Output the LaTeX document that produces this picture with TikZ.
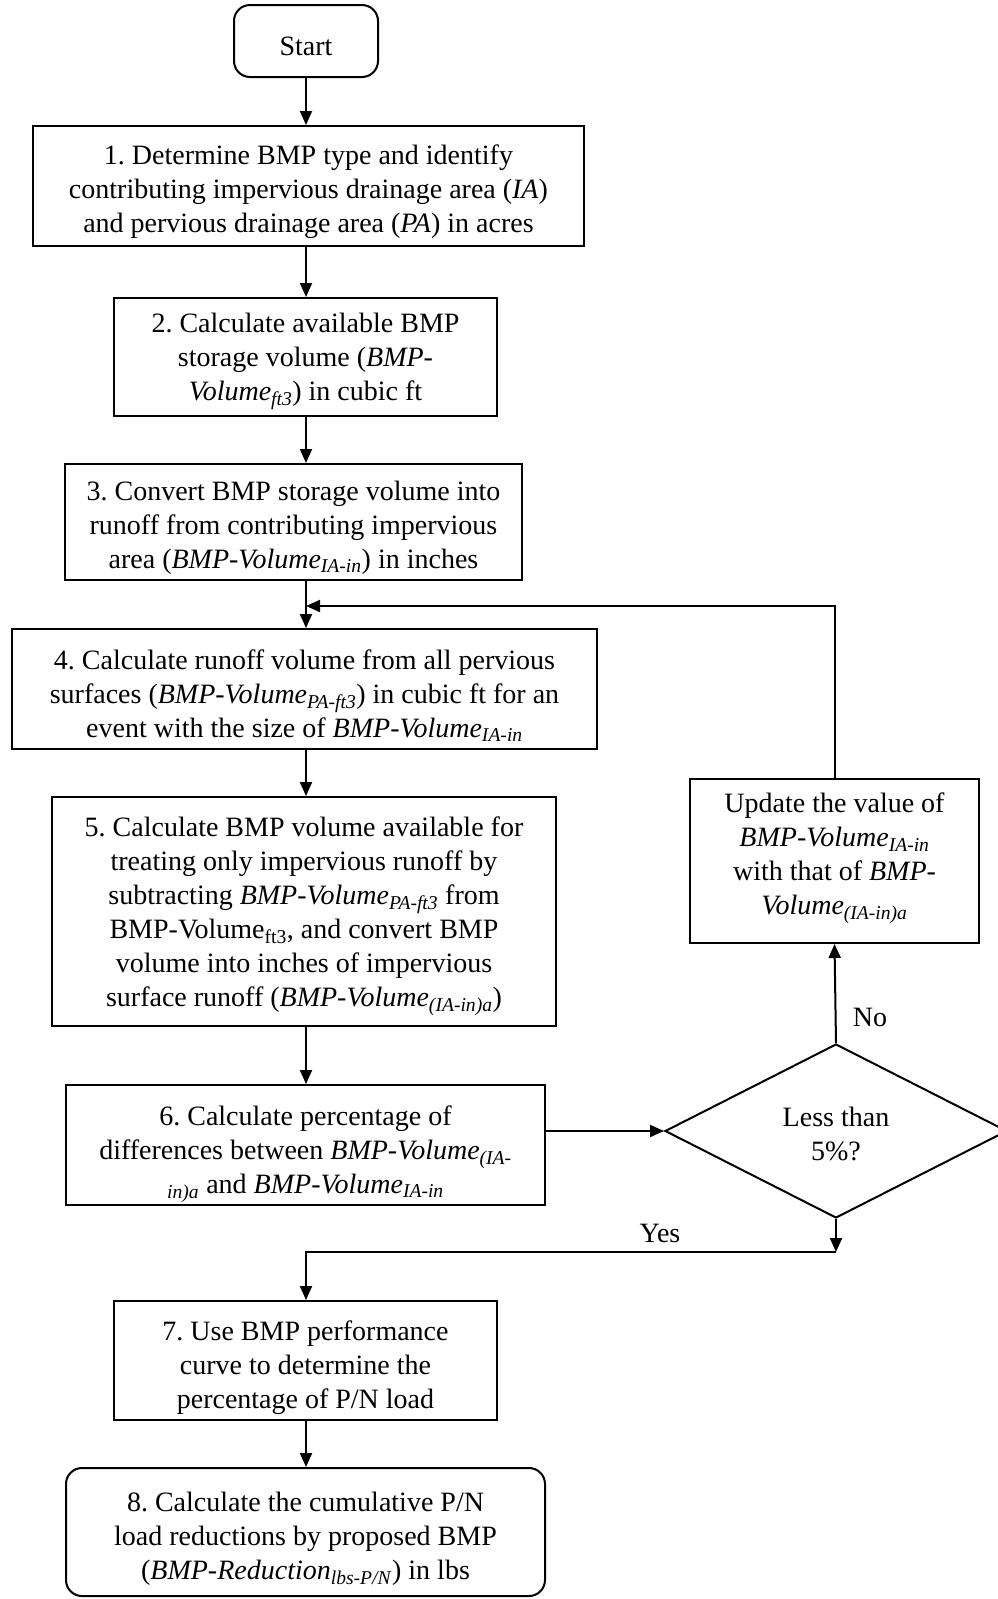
\documentclass[tikz,border=0pt]{standalone}
\usepackage{fontspec}
\setmainfont{Liberation Serif}
\usetikzlibrary{shapes.geometric,arrows.meta}
\newcommand{\vsub}[1]{\textsubscript{\textit{#1}}}
\frenchspacing
\tikzset{
  box/.style={draw,line width=2pt,align=center,inner sep=0pt,text depth=0pt,font=\fontsize{28}{34}\selectfont},
  rbox/.style={box,rounded corners=16pt},
  decision/.style={box,diamond,aspect=1.97},
  lbl/.style={font=\fontsize{28}{34}\selectfont},
}
\begin{document}
\begin{tikzpicture}[x=1pt,y=-1pt,line width=2pt,>={Triangle[length=14pt,width=12pt]}]
\useasboundingbox (0,0) rectangle (997,1599);
% steps
\node (start) at (306,41)[rbox,minimum width=144pt,minimum height=72pt]{\rule{0pt}{28pt}Start};
\node (s1) at (308.5,186)[box,text height=93pt,minimum width=551pt,minimum height=120pt]{1. Determine BMP type and identify\\ contributing impervious drainage area (\textit{IA})\\ and pervious drainage area (\textit{PA}) in acres};
\node (s2) at (305.5,357)[box,minimum width=383pt,minimum height=118pt]{2. Calculate available BMP\\ storage volume (\textit{BMP-}\\ \textit{Volume}\vsub{ft3}) in cubic ft};
\node (s3) at (293.5,522)[box,text height=93pt,minimum width=457pt,minimum height=116pt]{3. Convert BMP storage volume into\\ runoff from contributing impervious\\ area (\textit{BMP-Volume}\vsub{IA-in}) in inches};
\node (s4) at (304.5,689)[box,text height=97pt,minimum width=585pt,minimum height=120pt]{4. Calculate runoff volume from all pervious\\ surfaces (\textit{BMP-Volume}\vsub{PA-ft3}) in cubic ft for an\\ event with the size of \textit{BMP-Volume}\vsub{IA-in}};
\node (s5) at (304,911.5)[box,minimum width=504pt,minimum height=229pt]{5. Calculate BMP volume available for\\ treating only impervious runoff by\\ subtracting \textit{BMP-Volume}\vsub{PA-ft3} from\\ BMP-Volume\textsubscript{ft3}, and convert BMP\\ volume into inches of impervious\\ surface runoff (\textit{BMP-Volume}\vsub{(IA-in)a})};
\node (s6) at (305.5,1145)[box,text height=97pt,minimum width=479pt,minimum height=120pt]{6. Calculate percentage of\\ differences between \textit{BMP-Volume}\vsub{(IA-}\\ \vsub{in)a} and \textit{BMP-Volume}\vsub{IA-in}};
\node (upd) at (834.5,861)[box,text depth=14pt,minimum width=289pt,minimum height=164pt]{Update the value of\\ \textit{BMP-Volume}\vsub{IA-in}\\ with that of \textit{BMP-}\\ \textit{Volume}\vsub{(IA-in)a}};
\node (dec) at (836,1131)[decision,text height=59pt,minimum width=342pt,minimum height=174pt]{Less than\\ 5\%?};
\node (s7) at (305.5,1360.5)[box,text height=95pt,minimum width=383pt,minimum height=119pt]{7. Use BMP performance\\ curve to determine the\\ percentage of P/N load};
\node (s8) at (305.5,1532)[rbox,text height=95pt,minimum width=479pt,minimum height=128pt]{8. Calculate the cumulative P/N\\ load reductions by proposed BMP\\ (\textit{BMP-Reduction}\vsub{lbs-P/N}) in lbs};
\node (no) at (870,1017)[lbl]{No};
\node (yes) at (660,1233)[lbl]{Yes};
\coordinate (join) at (306,606);
\coordinate (ycorner) at (836,1252);

% connectors
\draw[->](start)--(start.south|-s1.north);
\draw[->](start.south|-s1.south)--(start.south|-s2.north);
\draw[->](start.south|-s2.south)--(start.south|-s3.north);
\draw[->](start.south|-s3.south)--(start.south|-s4.north);
\draw[->](start.south|-s4.south)--(start.south|-s5.north);
\draw[->](start.south|-s5.south)--(start.south|-s6.north);
\draw[->](dec.west-|s6.east)--(dec.west);
\draw[->](dec.north)--(upd.south);
\draw[->](upd.north)|-(join);
\draw[->](dec.south)--(ycorner);
\draw[->](ycorner)-|(start.south|-s7.north);
\draw[->](start.south|-s7.south)--(start.south|-s8.north);

\end{tikzpicture}
\end{document}
